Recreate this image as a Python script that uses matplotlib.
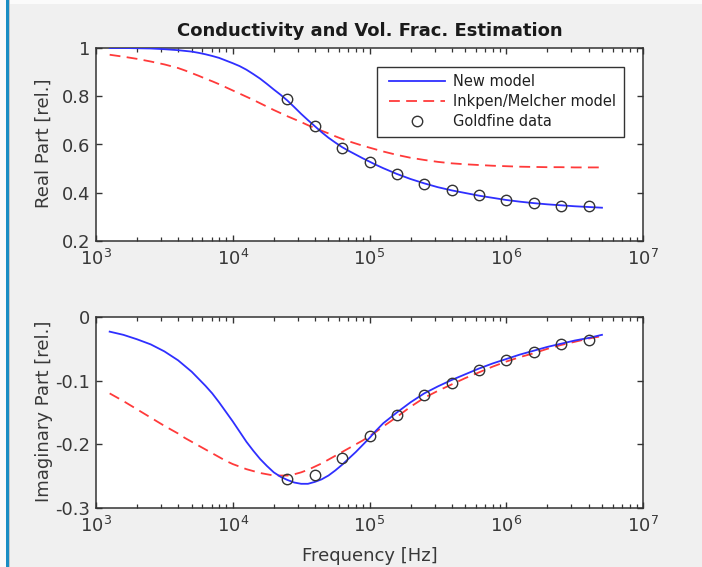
import numpy as np
import matplotlib
matplotlib.use("Agg")
import matplotlib.pyplot as plt
from matplotlib.patches import Rectangle
from matplotlib.ticker import FixedLocator, NullFormatter

plt.rcParams['font.family'] = ['DejaVu Sans']
plt.rcParams['mathtext.fontset'] = 'dejavusans'

# Model sweep (log10 of frequency in Hz), finer steps around the transition
log_freq = [3.1, 3.2, 3.3, 3.4, 3.5, 3.6,
            3.65, 3.7, 3.75, 3.8, 3.85, 3.9, 3.95, 4.0, 4.05, 4.1,
            4.15, 4.2, 4.25, 4.3, 4.35, 4.4, 4.45, 4.5, 4.55, 4.6,
            4.65, 4.7, 4.75, 4.8, 4.85, 4.9, 4.95, 5.0, 5.05, 5.1,
            5.2, 5.3, 5.4, 5.5, 5.6, 5.7, 5.8, 5.9, 6.0, 6.1,
            6.2, 6.3, 6.4, 6.5, 6.6, 6.7]

new_real = [1.000, 1.000, 0.999, 0.998, 0.995, 0.991,
            0.988, 0.985, 0.980, 0.974, 0.967, 0.959, 0.948, 0.937, 0.925, 0.910,
            0.892, 0.873, 0.851, 0.828, 0.806, 0.782, 0.755, 0.727, 0.701, 0.676,
            0.651, 0.628, 0.608, 0.589, 0.573, 0.558, 0.543, 0.529, 0.515, 0.502,
            0.478, 0.457, 0.439, 0.423, 0.410, 0.399, 0.388, 0.379, 0.370, 0.363,
            0.357, 0.352, 0.348, 0.344, 0.341, 0.338]

im_real = [0.972, 0.964, 0.955, 0.944, 0.932, 0.917,
           0.907, 0.896, 0.885, 0.873, 0.862, 0.850, 0.837, 0.824, 0.811, 0.798,
           0.785, 0.771, 0.757, 0.743, 0.730, 0.717, 0.705, 0.693, 0.680, 0.668,
           0.657, 0.646, 0.634, 0.623, 0.613, 0.604, 0.595, 0.587, 0.579, 0.571,
           0.557, 0.545, 0.536, 0.528, 0.522, 0.518, 0.515, 0.512, 0.510, 0.508,
           0.507, 0.506, 0.506, 0.505, 0.505, 0.505]

new_imag = [-0.023, -0.028, -0.035, -0.043, -0.054, -0.068,
            -0.077, -0.086, -0.097, -0.108, -0.120, -0.134, -0.149, -0.164, -0.180, -0.196,
            -0.210, -0.223, -0.234, -0.244, -0.251, -0.256, -0.260, -0.262, -0.262, -0.259,
            -0.255, -0.249, -0.241, -0.232, -0.222, -0.212, -0.201, -0.190, -0.178, -0.167,
            -0.150, -0.134, -0.120, -0.109, -0.099, -0.090, -0.081, -0.073, -0.066, -0.059,
            -0.053, -0.047, -0.042, -0.037, -0.033, -0.028]

im_imag = [-0.120, -0.132, -0.145, -0.158, -0.171, -0.183,
           -0.190, -0.196, -0.202, -0.208, -0.214, -0.220, -0.226, -0.231, -0.235, -0.239,
           -0.242, -0.245, -0.247, -0.249, -0.249, -0.249, -0.247, -0.244, -0.240, -0.235,
           -0.230, -0.224, -0.218, -0.212, -0.206, -0.200, -0.194, -0.187, -0.180, -0.172,
           -0.157, -0.141, -0.127, -0.116, -0.106, -0.096, -0.087, -0.078, -0.070, -0.063,
           -0.057, -0.050, -0.044, -0.039, -0.034, -0.030]

# Measured points
data_freq = [25e3, 40e3, 63e3, 100e3, 160e3, 250e3, 400e3, 630e3, 1e6, 1.6e6, 2.5e6, 4e6]
data_real = [0.788, 0.675, 0.587, 0.528, 0.476, 0.435, 0.411, 0.389, 0.371, 0.359, 0.347, 0.345]
data_imag = [-0.254, -0.248, -0.222, -0.187, -0.154, -0.123, -0.103, -0.083, -0.0675,
             -0.055, -0.0425, -0.036]

real_ticks = [0.2, 0.4, 0.6, 0.8, 1.0]
real_ticklabels = ["0.2", "0.4", "0.6", "0.8", "1"]
imag_ticks = [-0.3, -0.2, -0.1, 0.0]
imag_ticklabels = ["-0.3", "-0.2", "-0.1", "0"]
freq_ticks = [1e3, 1e4, 1e5, 1e6, 1e7]

legend_labels = ["New model", "Inkpen/Melcher model", "Goldfine data"]

freq = np.power(10.0, log_freq)
minor_ticks = [m * 10.0 ** k for k in range(3, 7) for m in range(2, 10)]

W, H = 702, 567
fig = plt.figure(figsize=(W / 100, H / 100), dpi=100, facecolor='#f0f0f0')


def px_rect(x0, y0, x1, y1, color, z=-5):
    """Rectangle given in figure pixels measured from the top-left corner."""
    fig.patches.append(Rectangle((x0 / W, 1 - y1 / H), (x1 - x0) / W, (y1 - y0) / H,
                                 transform=fig.transFigure, facecolor=color,
                                 edgecolor='none', zorder=z))


# window frame decorations
px_rect(0, 0, W, 4, '#fbfbfb')
px_rect(0, 0, 6, H, '#fbfbfb')
px_rect(6, 0, 8.5, H, '#1a8ec4', z=-4)
px_rect(8.5, 0, 10, H, '#c8c8c8', z=-4)

ax_left = 96 / W
ax_w = (643 - 96) / W
ax1 = fig.add_axes([ax_left, 1 - 241 / H, ax_w, (241 - 48) / H])
ax2 = fig.add_axes([ax_left, 1 - 508 / H, ax_w, (508 - 317) / H])

blue = '#2f2fff'
red = '#ff3a3a'
axis_col = '#333333'
text_col = '#383838'
fs = 13

for ax in (ax1, ax2):
    ax.set_xscale('log')
    ax.set_xlim(1e3, 1e7)
    ax.set_facecolor('white')
    ax.set_axisbelow(False)
    for sp in ax.spines.values():
        sp.set_color(axis_col)
        sp.set_linewidth(1.1)
    ax.xaxis.set_major_locator(FixedLocator(freq_ticks))
    ax.xaxis.set_minor_locator(FixedLocator(minor_ticks))
    ax.xaxis.set_minor_formatter(NullFormatter())
    ax.tick_params(axis='both', which='both', direction='in',
                   bottom=True, top=True, left=True, right=True,
                   color=axis_col, labelcolor=text_col, labelsize=fs)
    ax.tick_params(axis='both', which='major', length=4.5, width=1.0)
    ax.tick_params(axis='x', which='minor', length=2.8, width=0.9)
    ax.tick_params(axis='x', which='major', pad=6)
    ax.tick_params(axis='y', which='major', pad=4)

# Real part
l1, = ax1.plot(freq, new_real, color=blue, lw=1.3, zorder=3)
l2, = ax1.plot(freq, im_real, color=red, lw=1.3, dashes=(6, 3.5), zorder=2)
l3, = ax1.plot(data_freq, data_real, linestyle='none', marker='o', markersize=7.5,
               markerfacecolor='none', markeredgecolor='#333333', markeredgewidth=1.0, zorder=4)
ax1.set_ylim(0.2, 1.0)
ax1.set_yticks(real_ticks)
ax1.set_yticklabels(real_ticklabels)

# legend: entries placed without a frame, box drawn separately
leg_box = Rectangle(((377 - 96) / 547, (241 - 137) / 193), (624 - 377) / 547, (137 - 67) / 193,
                    transform=ax1.transAxes, facecolor='white', edgecolor=axis_col,
                    linewidth=1.0, zorder=5)
ax1.add_patch(leg_box)
leg = ax1.legend([l1, l2, l3], legend_labels, loc='upper left',
                 bbox_to_anchor=((389 - 96) / 547, (241 - 74) / 193),
                 fontsize=10.5, frameon=False, handlelength=3.85, handletextpad=0.55,
                 borderpad=0, labelspacing=0.36, borderaxespad=0)
leg.set_zorder(6)
for t in leg.get_texts():
    t.set_color('#202020')

# Imaginary part
ax2.plot(freq, new_imag, color=blue, lw=1.3, zorder=3)
ax2.plot(freq, im_imag, color=red, lw=1.3, dashes=(6, 3.5), zorder=2)
ax2.plot(data_freq, data_imag, linestyle='none', marker='o', markersize=7.5,
         markerfacecolor='none', markeredgecolor='#333333', markeredgewidth=1.0, zorder=4)
ax2.set_ylim(-0.3, 0.0)
ax2.set_yticks(imag_ticks)
ax2.set_yticklabels(imag_ticklabels)

# Titles and axis labels
fig.text(369.5 / W, 1 - 36 / H, "Conductivity and Vol. Frac. Estimation",
         ha='center', va='baseline', fontsize=fs, fontweight='bold', color='#1a1a1a')
fig.text(44 / W, 1 - 143 / H, "Real Part [rel.]", rotation=90,
         ha='center', va='center', fontsize=fs, color=text_col)
fig.text(44 / W, 1 - 411 / H, "Imaginary Part [rel.]", rotation=90,
         ha='center', va='center', fontsize=fs, color=text_col)
fig.text(369.5 / W, 1 - 561 / H, "Frequency [Hz]",
         ha='center', va='baseline', fontsize=fs, color=text_col)

fig.savefig("out.png", dpi=100, facecolor=fig.get_facecolor())
